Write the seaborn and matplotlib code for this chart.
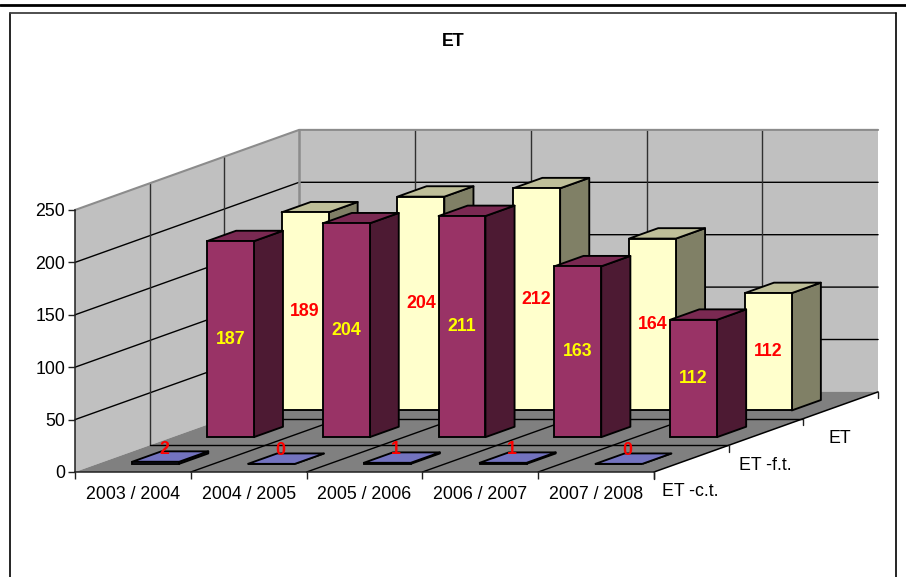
import pandas as pd
import numpy as np
import matplotlib
matplotlib.use("Agg")
import matplotlib.pyplot as plt
from matplotlib.lines import Line2D
from matplotlib.patches import Polygon
from matplotlib.transforms import Affine2D, IdentityTransform
import seaborn as sns

# ---------------- Data ----------------
seasons = ["2003 / 2004", "2004 / 2005", "2005 / 2006", "2006 / 2007", "2007 / 2008"]
series_names = ["ET -c.t.", "ET -f.t.", "ET"]
et_ct = [2, 0, 1, 1, 0]
et_ft = [187, 204, 211, 163, 112]
et_all = [189, 204, 212, 164, 112]
y_ticks = [0, 50, 100, 150, 200, 250]

# ---------------- Style ----------------
W, H = 906, 577
DX, DY = 74.7, 26.7        # one depth row, in pixels
BAR_W = 0.405
BAR_D = 0.39
GAP_D = 0.305
FACE = ["#9999FF", "#993366", "#FFFFCC"]
TOP = ["#7373BF", "#7A2952", "#BFBF99"]
SIDE = ["#4D4D80", "#4D1A33", "#808066"]
LABEL = ["#FF0000", "#FFFF00", "#FF0000"]
WALL = "#C0C0C0"
FLOOR = "#808080"
EDGE_W = 1.35
FS = 12.8

sns.set_theme(style="white")
plt.rcParams["font.family"] = ["Liberation Sans", "DejaVu Sans"]

fig = plt.figure(figsize=(W / 100, H / 100), dpi=100, facecolor="white")
ax = fig.add_axes([75 / W, (H - 472) / H, 579 / W, 262 / H])
ax.patch.set_visible(False)

values = [et_ct, et_ft, et_all]
ax.set_xlim(-0.5, 4.5)
ax.set_ylim(0, 250)


def px(x, v, d=0.0):
    # data position + depth -> display pixels
    p = ax.transData.transform((x, v))
    return p[0] + d * DX, p[1] + d * DY


def poly(points, face, z, edge="none", lw=0):
    ax.add_patch(Polygon(points, closed=True, facecolor=face, edgecolor=edge, linewidth=lw,
                         transform=IdentityTransform(), clip_on=False, zorder=z, joinstyle="round"))


def line(points, color="black", lw=1.0, z=0.6):
    xs, ys = zip(*points)
    ax.add_line(Line2D(xs, ys, color=color, linewidth=lw, transform=IdentityTransform(),
                       clip_on=False, zorder=z))


# ---------------- Walls and floor ----------------
x0, x1 = -0.5, 4.5
poly([px(x0, 0), px(x0, 250), px(x0, 250, 3), px(x0, 0, 3)], WALL, 0.1)
poly([px(x0, 0, 3), px(x0, 250, 3), px(x1, 250, 3), px(x1, 0, 3)], WALL, 0.1)
poly([px(x0, 0), px(x1, 0), px(x1, 0, 3), px(x0, 0, 3)], FLOOR, 0.2)

for v in y_ticks[1:-1]:
    line([px(x0, v), px(x0, v, 3), px(x1, v, 3)], z=0.3)
for d in [1, 2]:
    line([px(x0, 0, d), px(x0, 250, d)], color="#303030", z=0.3)
    line([px(x0, 0, d), px(x1, 0, d)], z=0.3)
for c in range(1, 5):
    line([px(x0 + c, 0, 3), px(x0 + c, 250, 3)], color="#303030", z=0.3)
    line([px(x0 + c, 0), px(x0 + c, 0, 3)], z=0.3)

# wall outline
line([px(x0, 250), px(x0, 250, 3), px(x1, 250, 3)], color="#8C8C8C", lw=1.5, z=0.4)
line([px(x0, 0, 3), px(x0, 250, 3)], color="#8C8C8C", lw=1.8, z=0.4)
line([px(x1, 0), px(x1, 0, 3)], lw=1.1, z=0.5)

# depth axis ticks and labels
for d in range(4):
    tx, ty = px(x1, 0, d)
    line([(tx, ty), (tx, ty - 6.5)], color="#202020", z=0.5)
    if d < 3:
        fig.text((tx + 36.5) / W, (ty - 20) / H, series_names[d], fontsize=FS, color="black",
                 ha="center", va="center")

# ---------------- Bars, back row first ----------------
for row in [2, 1, 0]:
    z = 3 + (2 - row) * 2
    d_front = row + GAP_D
    d_back = d_front + BAR_D
    df = pd.DataFrame({"season": seasons, "value": values[row]})
    n_before = len(ax.patches)
    sns.barplot(data=df, x="season", y="value", color=FACE[row], saturation=1, width=BAR_W,
                edgecolor="black", linewidth=EDGE_W, ax=ax, zorder=z + 0.5)
    shift = ax.transData + Affine2D().translate(d_front * DX, d_front * DY)
    bars = [p for p in ax.patches[n_before:] if p.get_zorder() == z + 0.5]
    for col, bar in enumerate(bars):
        left = bar.get_x()
        right = left + bar.get_width()
        v = values[row][col]
        bar.set_transform(shift)
        bar.set_clip_on(False)
        poly([px(right, 0, d_front), px(right, v, d_front), px(right, v, d_back), px(right, 0, d_back)],
             SIDE[row], z, "black", EDGE_W)
        poly([px(left, v, d_front), px(right, v, d_front), px(right, v, d_back), px(left, v, d_back)],
             TOP[row], z + 0.2, "black", EDGE_W)
        # value label: centre of the front face, or just over the flat plates of the front row
        lx, ly = px((left + right) / 2, v / 2, d_front)
        if row == 0:
            lx, ly = lx + 8.5, ly + 13.5
        ax.text(lx, ly, str(v), transform=IdentityTransform(), color=LABEL[row], fontsize=FS,
                fontweight="bold", ha="center", va="center", zorder=20, clip_on=False)

# ---------------- Axes ----------------
ax.set_xlim(-0.5, 4.5)
ax.set_ylim(0, 250)
ax.set_xlabel("")
ax.set_ylabel("")
ax.set_yticks(y_ticks)
ax.set_xticks(np.arange(-0.5, 5, 1), minor=True)
ax.tick_params(axis="x", which="major", length=0, labelsize=FS, pad=10, colors="black")
ax.tick_params(axis="x", which="minor", length=5, width=1.0, color="#202020", bottom=True)
ax.tick_params(axis="y", length=5, width=1.0, color="#202020", labelsize=FS, pad=2, left=True,
               labelcolor="black")
for side in ["top", "right"]:
    ax.spines[side].set_visible(False)
for side in ["left", "bottom"]:
    ax.spines[side].set_color("#202020")
    ax.spines[side].set_linewidth(1.1)

fig.text(453 / W, (H - 41) / H, "ET", fontsize=FS, fontweight="bold", color="black",
         ha="center", va="center")

# ---------------- Page rule and chart frame ----------------
def fig_line(xs, ys, color, lw):
    fig.add_artist(Line2D([x for x in xs], [H - y for y in ys], color=color, linewidth=lw,
                          transform=IdentityTransform()))


fig_line([0, W], [5, 5], "black", 2.0)
fig_line([10, 10], [13, H], "black", 1.2)
fig_line([10, 896], [13, 13], "#404040", 1.3)
fig_line([895.5, 895.5], [13, H], "black", 1.2)

fig.savefig("out.png", dpi=100)
